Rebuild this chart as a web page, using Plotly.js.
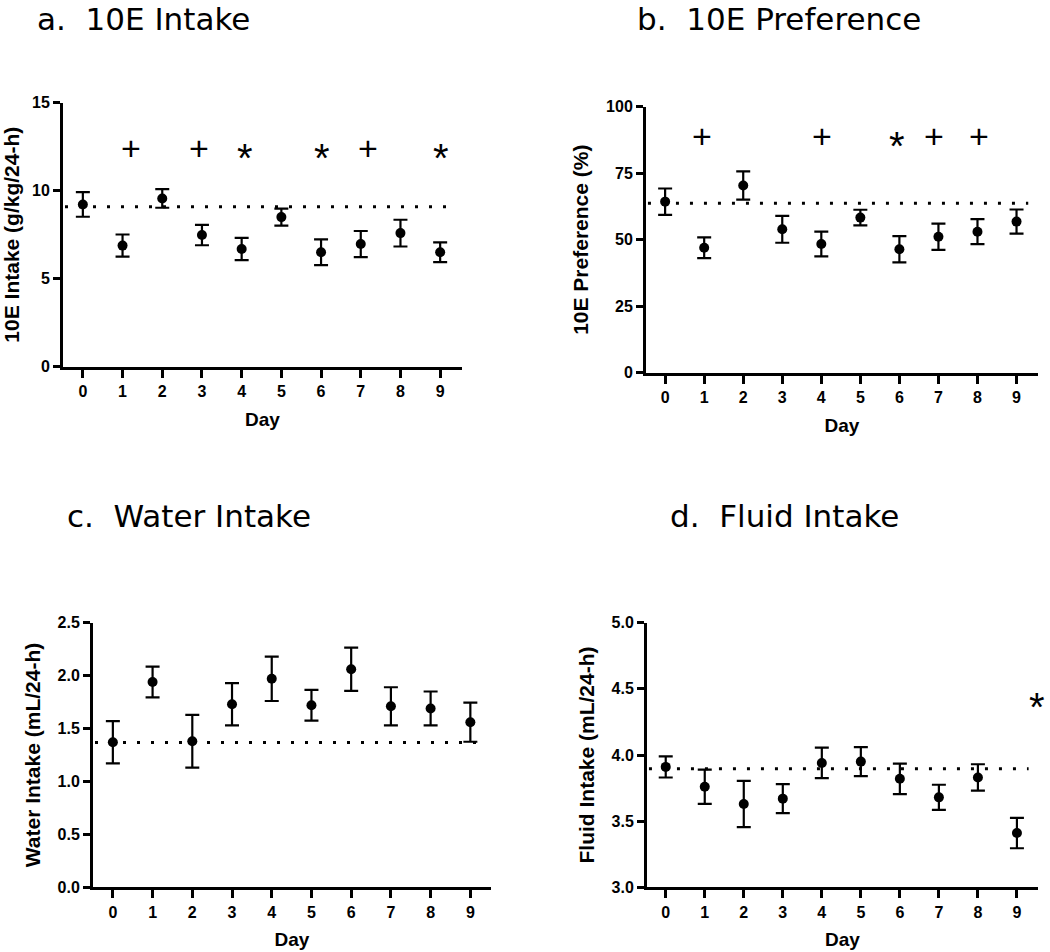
<!DOCTYPE html>
<html>
<head>
<meta charset="utf-8">
<script src="https://cdn.plot.ly/plotly-3.0.1.min.js"></script>
<style>html,body{margin:0;padding:0;background:#fff;}#chart{width:1050px;height:952px;}</style>
</head>
<body>
<div id="chart"></div>
<script>
// ---- data ----
const days = [0, 1, 2, 3, 4, 5, 6, 7, 8, 9];

const intakeMean = [9.22, 6.88, 9.56, 7.48, 6.69, 8.50, 6.50, 6.97, 7.59, 6.50];
const intakeSem  = [0.70, 0.63, 0.53, 0.58, 0.63, 0.48, 0.73, 0.74, 0.76, 0.56];
const intakeBaseline = 9.09;
const intakeSigDays = [1.22, 2.93, 4.08, 6.03, 7.18, 9.02];
const intakeSigMarks = ['+', '+', '*', '*', '+', '*'];
const intakeSigY = 12.45;

const prefMean = [64.3, 47.0, 70.4, 53.9, 48.4, 58.3, 46.4, 51.1, 53.0, 56.8];
const prefSem  = [4.95, 3.9, 5.3, 5.05, 4.65, 2.95, 4.95, 4.95, 4.7, 4.55];
const prefBaseline = 63.7;
const prefSigDays = [0.95, 4.01, 5.93, 6.89, 8.03];
const prefSigMarks = ['+', '+', '*', '+', '+'];
const prefSigY = 89;

const waterMean = [1.37, 1.94, 1.38, 1.73, 1.97, 1.72, 2.06, 1.71, 1.69, 1.56];
const waterSem  = [0.20, 0.145, 0.25, 0.20, 0.21, 0.145, 0.205, 0.18, 0.16, 0.185];
const waterBaseline = 1.367;

const fluidMean = [3.91, 3.76, 3.63, 3.67, 3.94, 3.95, 3.82, 3.68, 3.83, 3.41];
const fluidSem  = [0.08, 0.13, 0.175, 0.11, 0.115, 0.11, 0.115, 0.095, 0.10, 0.115];
const fluidBaseline = 3.897;
const fluidSigDays = [9.51];
const fluidSigMarks = ['*'];
const fluidSigY = 4.44;

const panelLetters = ['a.', 'b.', 'c.', 'd.'];
const panelTitles = ['10E Intake', '10E Preference', 'Water Intake', 'Fluid Intake'];
const yTitles = ['10E Intake (g/kg/24-h)', '10E Preference (%)', 'Water Intake (mL/24-h)', 'Fluid Intake (mL/24-h)'];
const xTitle = 'Day';

// ---- layout helpers ----
const W = 1050, H = 952;
const boxes = [
  {x0: 63,  x1: 462,  y0: 102.7, y1: 366.7, xr: [-0.5, 9.55], yr: [0, 15],  dt: 5,   fmt: ''},
  {x0: 646, x1: 1038, y0: 106.7, y1: 372.7, xr: [-0.49, 9.55], yr: [0, 100], dt: 25,  fmt: ''},
  {x0: 93,  x1: 491,  y0: 622.7, y1: 887.3, xr: [-0.5, 9.52], yr: [0, 2.5], dt: 0.5, fmt: '.1f'},
  {x0: 647, x1: 1038, y0: 622.7, y1: 887.3, xr: [-0.48, 9.54], yr: [3, 5],  dt: 0.5, fmt: '.1f'}
];
const titlePos = [{x: 35, y: 19}, {x: 635, y: 19}, {x: 65, y: 516}, {x: 668, y: 516}];

const means = [intakeMean, prefMean, waterMean, fluidMean];
const sems = [intakeSem, prefSem, waterSem, fluidSem];
const baselines = [intakeBaseline, prefBaseline, waterBaseline, fluidBaseline];
const sigs = [
  {d: intakeSigDays, m: intakeSigMarks, y: intakeSigY},
  {d: prefSigDays, m: prefSigMarks, y: prefSigY},
  {d: [], m: [], y: 0},
  {d: fluidSigDays, m: fluidSigMarks, y: fluidSigY}
];

const FONT = 'Liberation Sans, Arial, sans-serif';
const traces = [];
const layout = {
  width: W, height: H,
  margin: {l: 0, r: 0, t: 0, b: 0},
  paper_bgcolor: '#fff', plot_bgcolor: 'rgba(0,0,0,0)',
  showlegend: false,
  annotations: []
};

boxes.forEach((b, i) => {
  const n = i === 0 ? '' : String(i + 1);
  const xa = 'x' + n, ya = 'y' + n;
  // baseline dotted line
  traces.push({
    x: [b.xr[0] + 0.05, 9.3], y: [baselines[i], baselines[i]],
    xaxis: xa, yaxis: ya, mode: 'lines', hoverinfo: 'skip',
    line: {color: '#000', width: 3, dash: '3px,11px'}
  });
  traces.push({
    x: days, y: means[i], xaxis: xa, yaxis: ya,
    mode: 'markers', type: 'scatter',
    marker: {color: '#000', size: 10, symbol: 'circle'},
    error_y: {type: 'data', array: sems[i], visible: true, color: '#000', thickness: 2.2, width: 7}
  });
  layout['xaxis' + n] = {
    domain: [b.x0 / W, b.x1 / W], range: b.xr, anchor: ya,
    showline: true, linewidth: 3, linecolor: '#000',
    ticks: 'outside', ticklen: 8, tickwidth: 3, tickcolor: '#000',
    tickmode: 'array', tickvals: days, ticktext: days.map(String),
    showgrid: false, zeroline: false,
    tickfont: {family: FONT, size: 16, color: '#000', weight: 700},
    title: {text: xTitle, standoff: 14, font: {family: FONT, size: 19, color: '#000', weight: 700}}
  };
  layout['yaxis' + n] = {
    domain: [1 - b.y1 / H, 1 - b.y0 / H], range: b.yr, anchor: xa,
    showline: true, linewidth: 3, linecolor: '#000',
    ticks: 'outside', ticklen: 7, tickwidth: 3, tickcolor: '#000',
    dtick: b.dt, tick0: b.yr[0], tickformat: b.fmt,
    showgrid: false, zeroline: false,
    tickfont: {family: FONT, size: 16, color: '#000', weight: 700},
    title: {text: yTitles[i], standoff: 12, font: {family: FONT, size: 21, color: '#000', weight: 700}}
  };
  // panel title
  layout.annotations.push({
    xref: 'paper', yref: 'paper', x: titlePos[i].x / W, y: 1 - titlePos[i].y / H,
    xanchor: 'left', yanchor: 'middle', showarrow: false,
    text: panelLetters[i] + '\u00A0\u00A0' + panelTitles[i],
    font: {family: 'DejaVu Sans, sans-serif', size: 31, color: '#000'}
  });
  // significance marks
  sigs[i].d.forEach((d, k) => {
    const star = sigs[i].m[k] === '*';
    layout.annotations.push({
      xref: xa, yref: ya, x: d, y: sigs[i].y,
      xanchor: 'center', yanchor: 'middle', showarrow: false,
      text: sigs[i].m[k], yshift: star ? -10 : 0,
      font: {family: FONT, size: star ? 40 : 34, color: '#000'}
    });
  });
});

Plotly.newPlot('chart', traces, layout, {staticPlot: true, displayModeBar: false});
</script>
</body>
</html>
